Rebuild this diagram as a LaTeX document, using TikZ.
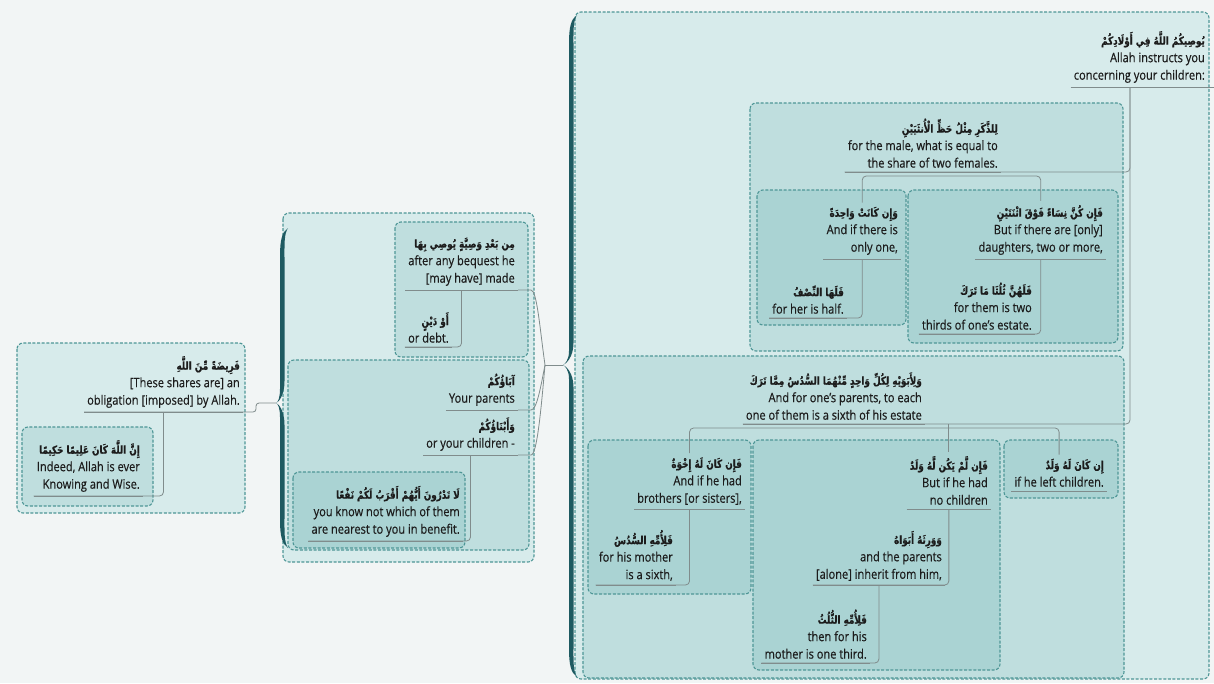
\documentclass[tikz,border=0pt]{standalone}
\usepackage{fontspec}
\setmainfont[FakeStretch=0.85,FakeBold=0.4]{Open Sans}
\newfontfamily\arabicfont[Script=Arabic,FakeStretch=0.8,FakeBold=1]{DejaVu Sans}
\TeXXeTstate=1
\usetikzlibrary{calc}

\definecolor{bgc}{HTML}{F2F5F5}
\definecolor{lvA}{HTML}{D7EBEB}
\definecolor{lvB}{HTML}{BFDEDE}
\definecolor{lvC}{HTML}{AAD3D3}
\definecolor{dashc}{HTML}{4E9696}
\definecolor{bracec}{HTML}{1E5A61}
\definecolor{linec}{HTML}{808C8C}
\definecolor{ink}{HTML}{1C1C1C}

% one Arabic line, set right to left
\newcommand\arline[1]{{\arabicfont\bfseries\fontsize{11}{17.5}\selectfont\beginR #1\endR}}

% left-pointing curly brace: outer spine x, top y, bottom y, tip x, tip y
\newcommand\drawbrace[5]{%
  \fill[bracec]
    ({#1+8},{#2}) .. controls ({#1+2},{#2+4}) and ({#1},{#2+12}) .. ({#1},{#2+28})
    -- ({#1},{#5-14}) .. controls ({#1},{#5-5}) and ({#4+2},{#5-1}) .. ({#4},{#5})
    .. controls ({#4+2},{#5+1}) and ({#1},{#5+5}) .. ({#1},{#5+14})
    -- ({#1},{#3-28}) .. controls ({#1},{#3-12}) and ({#1+2},{#3-4}) .. ({#1+8},{#3})
    .. controls ({#1+4},{#3-6}) and ({#1+4.5},{#3-16}) .. ({#1+4.5},{#3-32})
    -- ({#1+4.5},{#5+22}) .. controls ({#1+4.5},{#5+8}) and ({#4+3},{#5+1}) .. ({#4},{#5})
    .. controls ({#4+3},{#5-1}) and ({#1+4.5},{#5-8}) .. ({#1+4.5},{#5-22})
    -- ({#1+4.5},{#2+32}) .. controls ({#1+4.5},{#2+16}) and ({#1+4},{#2+6}) .. ({#1+8},{#2}) -- cycle;}

\tikzset{
  topic/.style={align=right, anchor=south east, inner xsep=3pt, inner ysep=4pt,
    font=\fontsize{13}{17.5}\selectfont, text=ink},
  conn/.style={draw=linec, line width=0.8pt, rounded corners=4pt},
  uline/.style={draw=linec, line width=0.8pt},
  grp/.style={draw=dashc, line width=1.1pt, dash pattern=on 3pt off 1.6pt, rounded corners=6pt},
}

\begin{document}
\begin{tikzpicture}[x=1pt,y=-1pt]
\useasboundingbox (0,0) rectangle (1214,683);
\fill[bgc] (0,0) rectangle (1214,683);

% ---- group frames ----
\draw[grp, fill=lvA] (17,343) rectangle (245,513);
\draw[grp, fill=lvB] (22,427) rectangle (153,506);

\draw[grp, fill=lvA] (283,213) rectangle (534,562);
\draw[grp, fill=lvB] (395,222) rectangle (528,357);
\draw[grp, fill=lvB] (288,360) rectangle (529,550);
\draw[grp, fill=lvC] (293,472) rectangle (465,548);

\draw[grp, fill=lvA] (575,12) rectangle (1209,679);
\draw[grp, fill=lvB] (750,103) rectangle (1123,351);
\draw[grp, fill=lvC] (757,190) rectangle (906,325);
\draw[grp, fill=lvC] (908,190) rectangle (1118,343);
\draw[grp, fill=lvB] (583,356) rectangle (1124,678);
\draw[grp, fill=lvC] (588,440) rectangle (751,594);
\draw[grp, fill=lvC] (753,440) rectangle (1000,670);
\draw[grp, fill=lvC] (1004,440) rectangle (1118,498);

% ---- braces ----
\drawbrace{280}{228}{548}{276}{403}
\drawbrace{569}{15}{677}{563}{365}
\coordinate (btip) at (276,403);
\coordinate (ctip) at (563,365);
\coordinate (cjoin) at (545,365);

% ---- topics ----
\node[topic] (root) at (1208,87) {\arline{يُوصِيكُمُ اللَّهُ فِي أَوْلَادِكُمْ}\\Allah instructs you\\concerning your children:};
\coordinate (rj) at (1130,87);
\coordinate (rootedge) at (1214,87);

\node[topic] (c1) at (1001,172) {\arline{لِلذَّكَرِ مِثْلُ حَظِّ الْأُنثَيَيْنِ}\\for the male, what is equal to\\the share of two females.};
\node[topic] (c1a) at (901,259) {\arline{وَإِن كَانَتْ وَاحِدَةً}\\And if there is\\only one,};
\node[topic] (c1ak) at (847,318) {\arline{فَلَهَا النِّصْفُ}\\for her is half.};
\node[topic] (c1b) at (1106,259) {\arline{فَإِن كُنَّ نِسَاءً فَوْقَ اثْنَتَيْنِ}\\But if there are {[}only{]}\\daughters, two or more,};
\node[topic] (c1bk) at (1035,334) {\arline{فَلَهُنَّ ثُلُثَا مَا تَرَكَ}\\for them is two\\thirds of one's estate.};

\node[topic] (c2) at (925,424) {\arline{وَلِأَبَوَيْهِ لِكُلِّ وَاحِدٍ مِّنْهُمَا السُّدُسُ مِمَّا تَرَكَ}\\And for one's parents, to each\\one of them is a sixth of his estate};
\node[topic] (c2a) at (745,509) {\arline{فَإِن كَانَ لَهُ إِخْوَةٌ}\\And if he had\\brothers {[}or sisters{]},};
\node[topic] (c2ak) at (676,585) {\arline{فَلِأُمِّهِ السُّدُسُ}\\for his mother\\is a sixth,};
\node[topic] (c2b) at (991,509) {\arline{فَإِن لَّمْ يَكُن لَّهُ وَلَدٌ}\\But if he had\\no children};
\node[topic] (c2bk) at (945,585) {\arline{وَوَرِثَهُ أَبَوَاهُ}\\and the parents\\{}{[}alone{]} inherit from him,};
\node[topic] (c2bkk) at (870,663) {\arline{فَلِأُمِّهِ الثُّلُثُ}\\then for his\\mother is one third.};
\node[topic] (c2c) at (1107,491) {\arline{إِن كَانَ لَهُ وَلَدٌ}\\if he left children.};

\node[topic] (b1) at (518,290) {\arline{مِن بَعْدِ وَصِيَّةٍ يُوصِي بِهَا}\\after any bequest he\\{}{[}may have{]} made};
\node[topic] (b1k) at (452,347) {\arline{أَوْ دَيْنٍ}\\or debt.};
\node[topic] (bp) at (518,410) {\arline{آبَاؤُكُمْ}\\Your parents};
\node[topic] (bc) at (518,455) {\arline{وَأَبْنَاؤُكُمْ}\\or your children -};
\node[topic] (bck) at (463,541) {\arline{لَا تَدْرُونَ أَيُّهُمْ أَقْرَبُ لَكُمْ نَفْعًا}\\you know not which of them\\are nearest to you in benefit.};

\node[topic] (a) at (243,412) {\arline{فَرِيضَةً مِّنَ اللَّهِ}\\{}{[}These shares are{]} an\\obligation {[}imposed{]} by Allah.};
\node[topic] (ak) at (143,496) {\arline{إِنَّ اللَّهَ كَانَ عَلِيمًا حَكِيمًا}\\Indeed, Allah is ever\\Knowing and Wise.};

% ---- underlines ----
\foreach \n in {root,c1,c1a,c1ak,c1b,c1bk,c2,c2a,c2ak,c2b,c2bk,c2bkk,c2c,b1,b1k,bp,bc,bck,a,ak}
  \draw[uline] (\n.south west) -- (\n.south east);
\draw[uline] (root.south east) -- (rootedge);

% ---- connectors ----
\draw[conn] (c1.south west) -| (rj);
\draw[conn] (c2.south west) -| (rj);
\draw[conn] (c1a.north) |- ($(c1.south)+(0,4)$) -| (c1b.north);
\draw[conn] (c2a.north) |- ($(c2.south)+(0,4)$) -| (c2c.north);
\draw[conn] (c2b.north) -- (c2b.north |- c2.south);

\draw[conn] (c1ak.south west) -| (c1a.south);
\draw[conn] (c1bk.south west) -| (c1b.south);
\draw[conn] (c2ak.south west) -| (c2a.south);
\draw[conn] (c2bk.south west) -| (c2b.south);
\draw[conn] (c2bkk.south west) -| (c2bk.south);
\draw[conn] (b1k.south west) -| (b1.south);
\draw[conn] (bck.south west) -| (bc.south);
\draw[conn] (ak.south west) -| (a.south);

\draw[conn] (b1.south east) -- ++(9,0) .. controls +(10,0) and +(-5,-35) .. (cjoin);
\draw[conn] (bp.south east) -- ++(9,0) .. controls +(10,0) and +(-4,20) .. (cjoin);
\draw[conn] (bc.south east) -- ++(9,0) .. controls +(10,0) and +(-4,45) .. (cjoin);
\draw[conn] (cjoin) -- (ctip);

\draw[conn, rounded corners=3pt] (a.south west) -| ($(btip)+(-20,0)$) -- (btip);
\end{tikzpicture}
\end{document}
